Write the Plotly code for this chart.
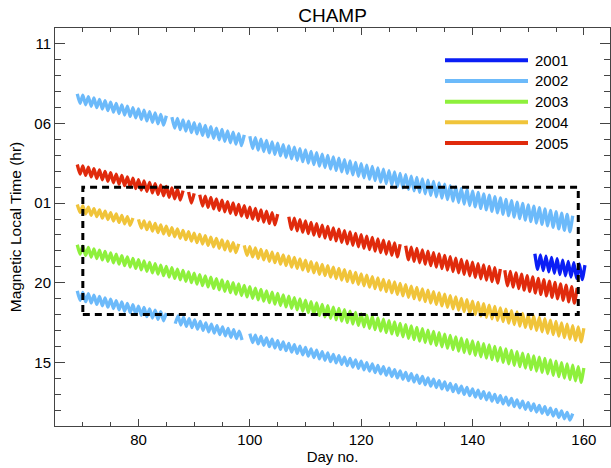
import plotly.graph_objects as go

# ---------------- data ----------------
years = ["2001", "2002", "2003", "2004", "2005"]
year_colors = ["#0A1EF5", "#6CBAFA", "#8EF03C", "#F0C43A", "#E02A0C"]

# one entry per drawn track (2002 appears twice: two passes 12 h apart)
track_year = ["2001", "2002", "2002", "2003", "2004", "2005"]
seg_start = [[151.2], [69, 86, 100], [69, 86.6, 100], [69], [69, 80, 99],
             [69, 89, 91, 107, 128, 145.8]]
seg_end = [[160.2], [85, 99, 158], [85, 99, 158], [160], [79, 98, 160],
           [88, 90, 105, 127, 145.2, 159]]
mlt_first = [-2.65, 7.59, -4.79, -1.89, 0.69, 3.15]     # MLT (continuous hours) at first day
mlt_last = [-3.37, -0.32, -12.45, -9.83, -7.31, -4.85]  # MLT at last day
swing_first = [0.95, 0.55, 0.55, 0.55, 0.45, 0.55]      # daily peak-to-peak swing (h)
swing_last = [0.95, 1.05, 0.45, 0.95, 0.90, 1.00]

mlt_tickvals = [-9, -4, 1, 6, 11]
mlt_ticktext = ["15", "20", "01", "06", "11"]
day_tickvals = [80, 100, 120, 140, 160]

box_days = [70, 159]
box_mlt = [-6, 2]

# ---------------- figure ----------------
FONT = "Liberation Sans, Arial, Helvetica, sans-serif"
color_of = dict(zip(years, year_colors))

fig = go.Figure()
for i, yr in enumerate(track_year):
    xs, ys = [], []
    d0, d1 = seg_start[i][0], seg_end[i][-1]
    for s, e in zip(seg_start[i], seg_end[i]):
        t = s
        while t <= e + 1e-9:
            f = (t - d0) / (d1 - d0)
            trend = mlt_first[i] + f * (mlt_last[i] - mlt_first[i])
            sw = swing_first[i] + f * (swing_last[i] - swing_first[i])
            sign = 1 if int(round(t * 2)) % 2 == 0 else -1
            xs.append(t)
            ys.append(trend + sign * sw / 2)
            t += 0.5
        xs.append(None)
        ys.append(None)
    fig.add_trace(go.Scatter(x=xs, y=ys, mode="lines", name=yr, showlegend=False,
                             connectgaps=False,
                             line=dict(color=color_of[yr], width=3.3,
                                       shape="spline", smoothing=0.5)))

# dashed box
fig.add_shape(type="rect", xref="x", yref="y",
              x0=box_days[0], x1=box_days[1], y0=box_mlt[0], y1=box_mlt[1],
              line=dict(color="black", width=3, dash="7px,5px"))

# custom legend (long line samples)
H = 398.0
leg_rows_px = [60.3, 81.0, 101.7, 122.3, 143.0]
for yr, col, ypx in zip(years, year_colors, leg_rows_px):
    yp = (426 - ypx) / H
    fig.add_shape(type="line", xref="paper", yref="paper",
                  x0=(445 - 55) / 555, x1=(528 - 55) / 555, y0=yp, y1=yp,
                  line=dict(color=col, width=4))
    fig.add_annotation(xref="paper", yref="paper", x=(533 - 55) / 555, y=yp,
                       text=yr, showarrow=False, xanchor="left", yanchor="middle",
                       font=dict(family=FONT, size=15, color="black"))

axis_common = dict(showline=True, linecolor="#444", linewidth=1, mirror="allticks",
                   ticks="inside", tickcolor="#444", tickwidth=1,
                   showgrid=False, zeroline=False,
                   tickfont=dict(family=FONT, size=15, color="black"))

fig.update_xaxes(range=[65, 164.7], tickvals=day_tickvals, ticklen=7,
                 minor=dict(dtick=5, tick0=65, ticks="inside", ticklen=4, tickcolor="#444"),
                 title=dict(text="Day no.", font=dict(family=FONT, size=15, color="black"),
                            standoff=4),
                 **axis_common)
fig.update_yaxes(range=[-13, 12], tickvals=mlt_tickvals, ticktext=mlt_ticktext, ticklen=10,
                 minor=dict(dtick=1, tick0=0, ticks="inside", ticklen=6, tickcolor="#444"),
                 title=dict(text="Magnetic Local Time (hr)",
                            font=dict(family=FONT, size=15.5, color="black"), standoff=8),
                 **axis_common)

fig.update_layout(
    width=611, height=468,
    margin=dict(l=55, r=1, t=28, b=42, autoexpand=False),
    paper_bgcolor="white", plot_bgcolor="white",
    title=dict(text="CHAMP", x=(332.5 / 611), xanchor="center",
               y=1 - 15 / 468, yanchor="middle",
               font=dict(family=FONT, size=19, color="black")),
    showlegend=False,
)

fig.write_html("out.html", config={"displayModeBar": False},
               post_script="document.body.style.margin='0';document.body.style.overflow='hidden';")
